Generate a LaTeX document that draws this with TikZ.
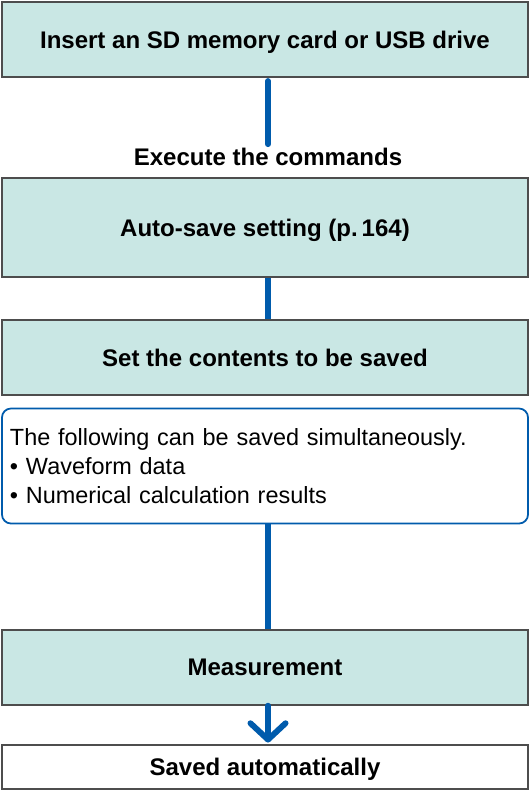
\documentclass[tikz,border=0pt]{standalone}
\usepackage{fontspec}
\setmainfont{Liberation Sans}
\usetikzlibrary{arrows.meta}
\definecolor{boxteal}{HTML}{C9E7E4}
\definecolor{boxedge}{HTML}{4D4D4D}
\definecolor{flowblue}{HTML}{005BAC}
\tikzset{
  stepbox/.style={draw=boxedge, fill=boxteal, line width=1.2pt, inner sep=0pt,
    minimum width=15.78cm, minimum height=#1, text depth=0pt,
    font=\bfseries\fontsize{20.5}{25}\selectfont},
  endbox/.style={stepbox=#1, fill=white},
  notebox/.style={draw=flowblue, fill=white, line width=1.5pt, rounded corners=0.27cm,
    minimum width=15.78cm, minimum height=#1, text width=15.3cm, inner xsep=0.24cm,
    align=left, font=\fontsize{20}{24.5}\selectfont},
  flowline/.style={draw=flowblue, line width=5pt},
}
\begin{document}
\begin{tikzpicture}[x=0.03cm, y=-0.03cm]
  \useasboundingbox (0,0) rectangle (530,791);
  \node[stepbox=2.25cm] (ins) at (265,39.5) {Insert an SD memory card or USB drive};
  \node[font=\bfseries\fontsize{20.5}{25}\selectfont, text depth=0pt] (exec) at (268,157) {Execute the commands};
  \node[stepbox=2.97cm] (auto) at (265,227.5) {Auto-save setting (p.\,164)};
  \node[stepbox=2.25cm] (cont) at (265,357.5) {Set the contents to be saved};
  \node[notebox=3.45cm] (note) at (265,466)
    {The following can be saved simultaneously.\\
     • Waveform data\\
     • Numerical calculation results};
  \node[stepbox=2.25cm] (meas) at (265,667.5) {Measurement};
  \node[endbox=1.32cm] (saved) at (265,767) {Saved automatically};

  \draw[flowline, line cap=round] ([xshift=0.09cm, yshift=-0.1cm]ins.south) -- (exec.north);
  \draw[flowline] ([xshift=0.09cm]auto.south) -- ([xshift=0.09cm]cont.north);
  \draw[flowline] ([xshift=0.09cm]note.south) -- ([xshift=0.09cm]meas.north);
  \draw[flowline, line cap=round, -{Straight Barb[length=14pt, width=30pt, round]}]
    ([xshift=0.09cm]meas.south) -- ([xshift=0.09cm, yshift=1.5pt]saved.north);
\end{tikzpicture}
\end{document}
